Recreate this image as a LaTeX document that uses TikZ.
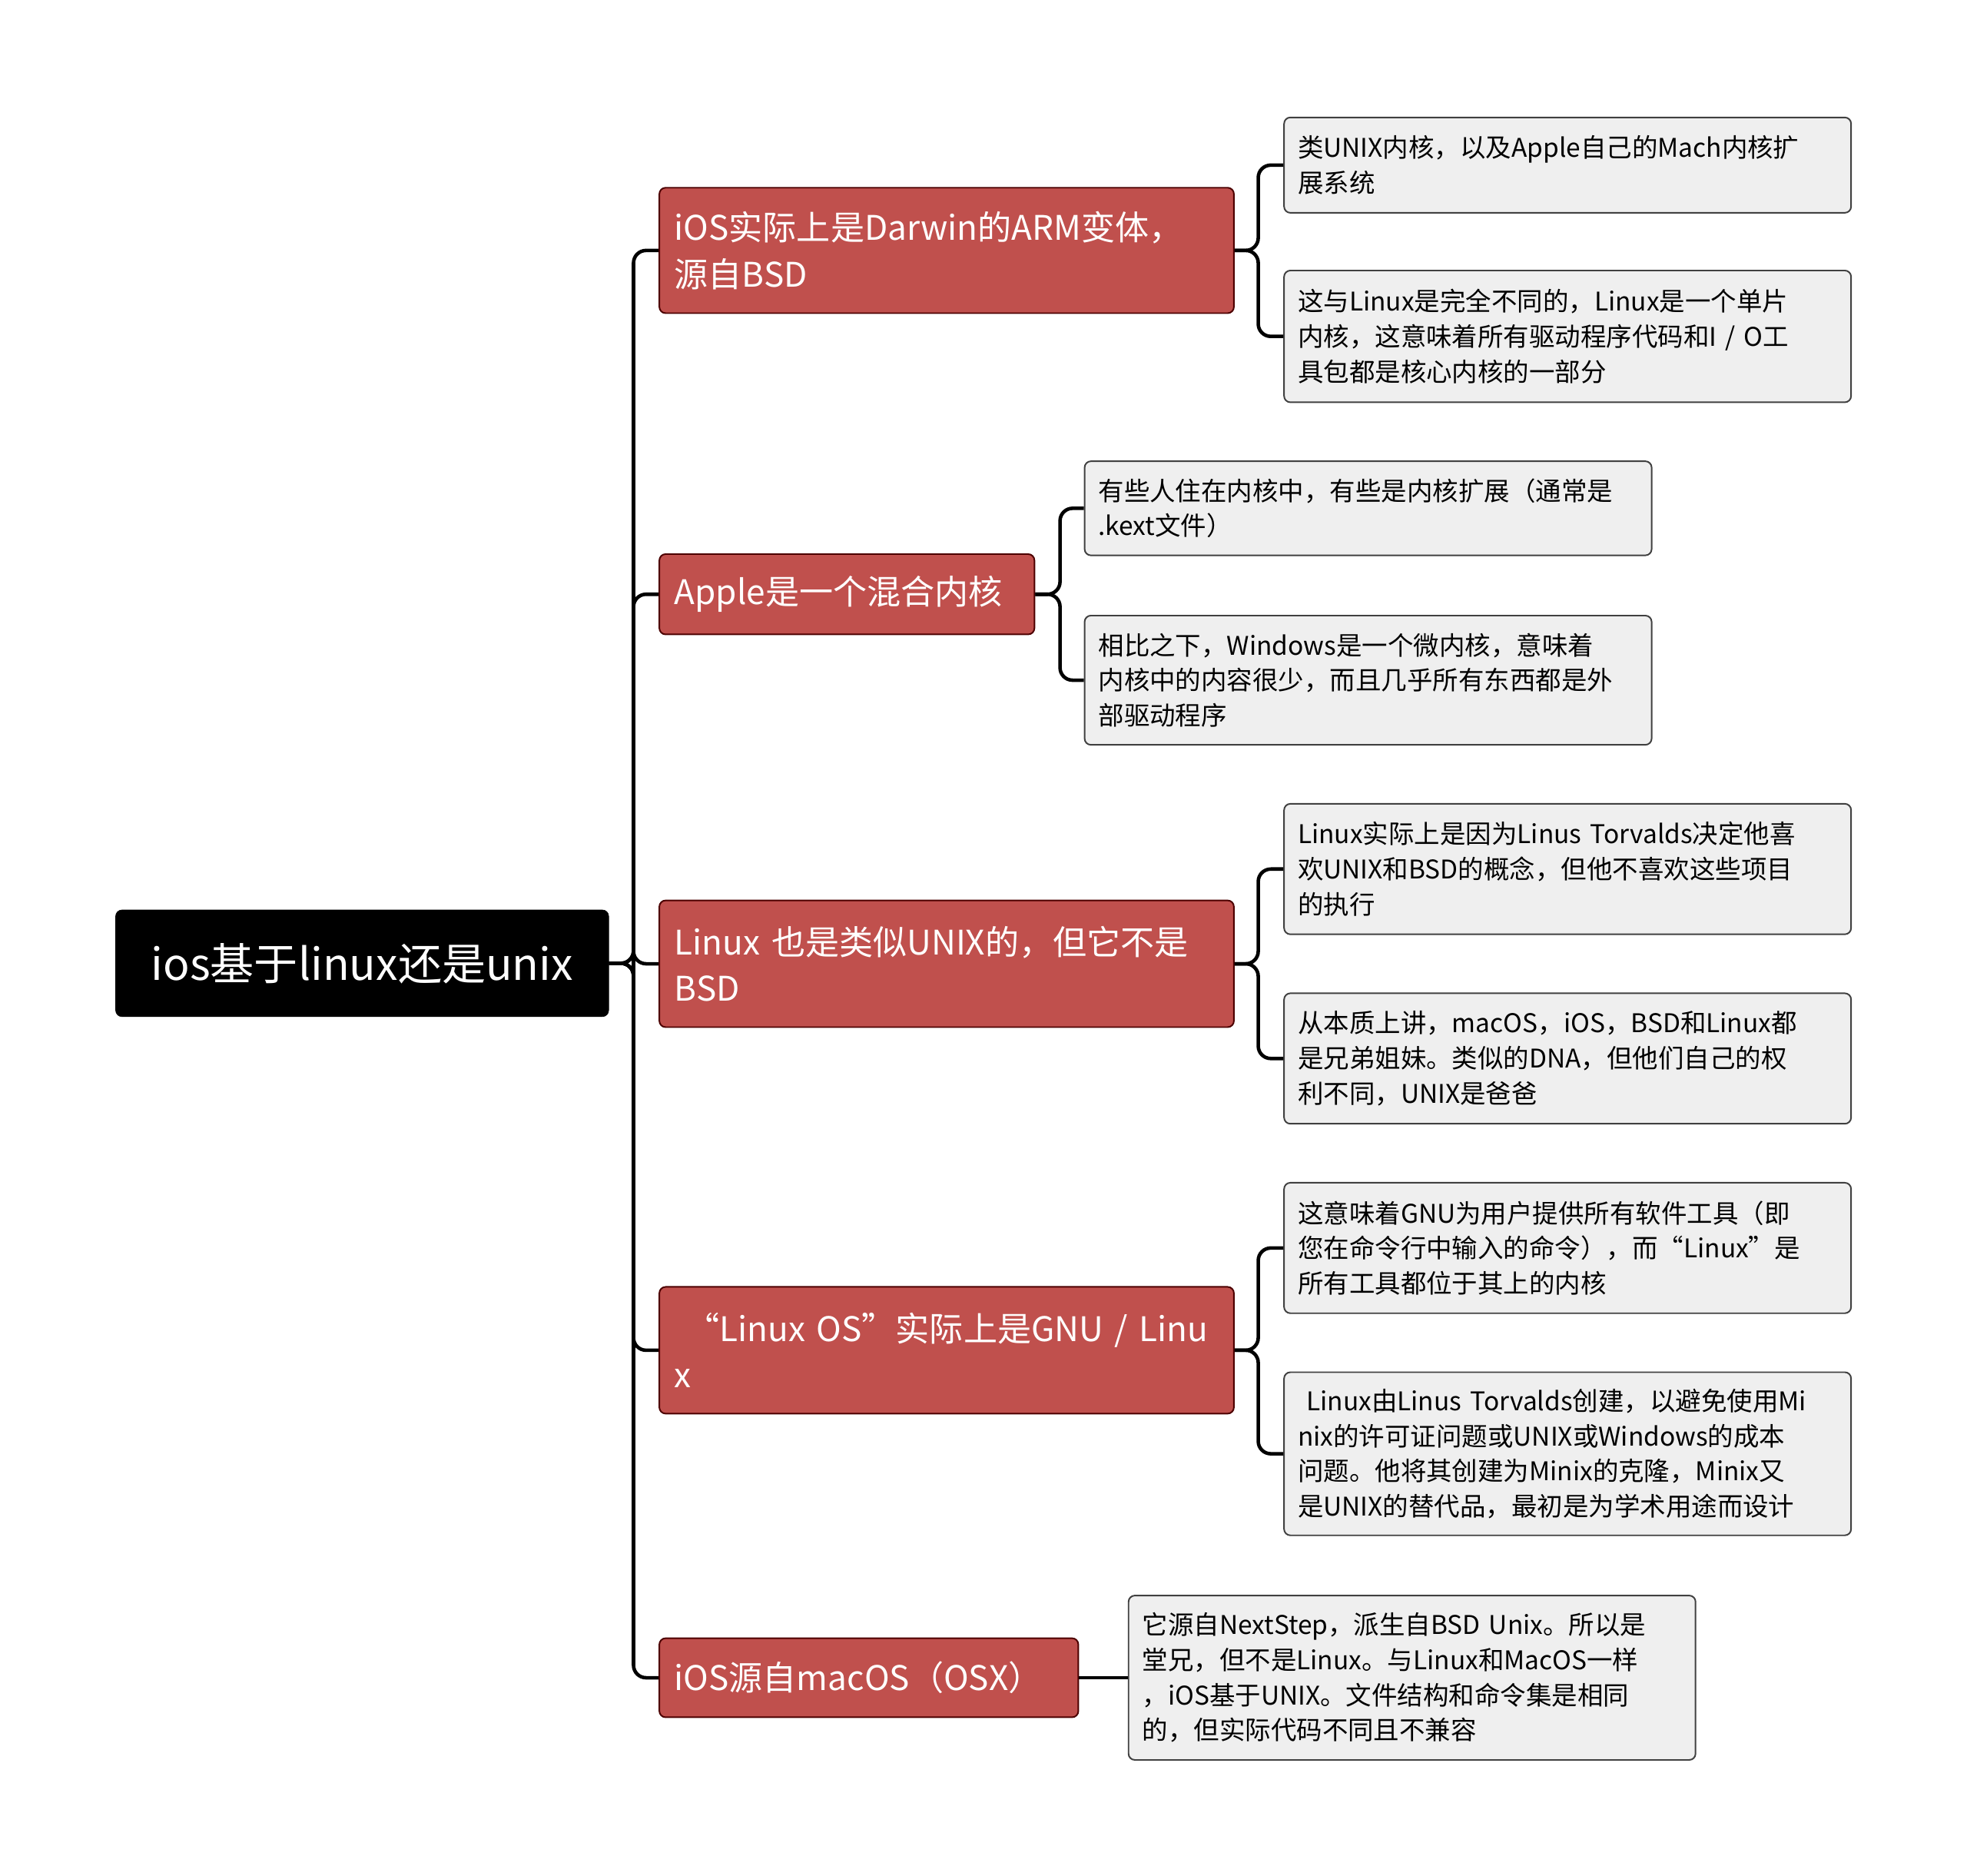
\documentclass[tikz,border=0pt]{standalone}
\usepackage{fontspec}
\setmainfont{Noto Sans CJK SC}
\begin{document}
\begin{tikzpicture}[x=1pt,y=-1pt,
 root/.style={draw=black,fill=black,text=white,rounded corners=5,anchor=north west,inner sep=0pt,font=\fontsize{35}{44}\selectfont},
 lone/.style={draw=black!70!red,line width=1.2pt,fill=redbox,text=white,rounded corners=5,anchor=north west,inner xsep=12pt,inner ysep=0pt,align=left,font=\fontsize{27}{37}\selectfont},
 ltwo/.style={draw=black!75,line width=1.2pt,fill=greybox,rounded corners=5,anchor=north west,inner xsep=11pt,inner ysep=0pt,align=left,font=\fontsize{20.5}{28}\selectfont},
 conn/.style={line width=2.8pt,rounded corners=10}]
\definecolor{redbox}{HTML}{C0504D}
\definecolor{greybox}{HTML}{EFEFEF}
\useasboundingbox (0,0) rectangle (1568,1495);
\node[root,minimum width=393,minimum height=85] (r) at (92,725) {ios基于linux还是unix};
\node[lone,minimum width=458,minimum height=100,text width=434] (n1) at (525,149) {iOS实际上是Darwin的ARM变体，\\源自BSD};
\node[lone,minimum width=299,minimum height=64,text width=275] (n2) at (525,441) {Apple是一个混合内核};
\node[lone,minimum width=458,minimum height=101,text width=434] (n3) at (525,717) {Linux 也是类似UNIX的，但它不是\\BSD};
\node[lone,minimum width=458,minimum height=101,text width=434] (n4) at (525,1025) {\hbox{\ “Linux OS”实际上是GNU / Linu}\\x};
\node[lone,minimum width=334,minimum height=63,text width=310] (n5) at (525,1305) {iOS源自macOS（OSX）};
\node[ltwo,minimum width=452,minimum height=76,text width=430] (a) at (1023,93) {类UNIX内核，以及Apple自己的Mach内核扩\\展系统};
\node[ltwo,minimum width=452,minimum height=105,text width=430] (b) at (1023,215) {这与Linux是完全不同的，Linux是一个单片\\内核，这意味着所有驱动程序代码和I / O工\\具包都是核心内核的一部分};
\node[ltwo,minimum width=452,minimum height=75,text width=430] (c) at (864,367) {有些人住在内核中，有些是内核扩展（通常是\\.kext文件）};
\node[ltwo,minimum width=452,minimum height=103,text width=430] (d) at (864,490) {相比之下，Windows是一个微内核，意味着\\内核中的内容很少，而且几乎所有东西都是外\\部驱动程序};
\node[ltwo,minimum width=452,minimum height=104,text width=430] (e) at (1023,640) {Linux实际上是因为Linus Torvalds决定他喜\\欢UNIX和BSD的概念，但他不喜欢这些项目\\的执行};
\node[ltwo,minimum width=452,minimum height=104,text width=430] (f) at (1023,791) {从本质上讲，macOS，iOS，BSD和Linux都\\是兄弟姐妹。类似的DNA，但他们自己的权\\利不同，UNIX是爸爸};
\node[ltwo,minimum width=452,minimum height=104,text width=430] (g) at (1023,942) {这意味着GNU为用户提供所有软件工具（即\\您在命令行中输入的命令），而“Linux”是\\所有工具都位于其上的内核};
\node[ltwo,minimum width=452,minimum height=130,text width=430] (h) at (1023,1093) {\ Linux由Linus Torvalds创建，以避免使用Mi\\nix的许可证问题或UNIX或Windows的成本\\问题。他将其创建为Minix的克隆，Minix又\\是UNIX的替代品，最初是为学术用途而设计};
\node[ltwo,minimum width=452,minimum height=131,text width=430] (i) at (899,1271) {它源自NextStep，派生自BSD Unix。所以是\\堂兄，但不是Linux。与Linux和MacOS一样\\，iOS基于UNIX。文件结构和命令集是相同\\的，但实际代码不同且不兼容};
\coordinate (t) at (505,0);
\foreach \n in {n1,n2,n3,n4,n5}{\draw[conn] (r.east) -- (r.east -| t) |- (\n.west);}
\coordinate (t1) at (1003,0);
\foreach \p/\c in {n1/a,n1/b,n3/e,n3/f,n4/g,n4/h}{\draw[conn] (\p.east) -- (\p.east -| t1) |- (\c.west);}
\coordinate (t2) at (845,0);
\foreach \c in {c,d}{\draw[conn] (n2.east) -- (n2.east -| t2) |- (\c.west);}
\draw[conn] (n5.east) -- (n5.east -| i.west);
\end{tikzpicture}
\end{document}
